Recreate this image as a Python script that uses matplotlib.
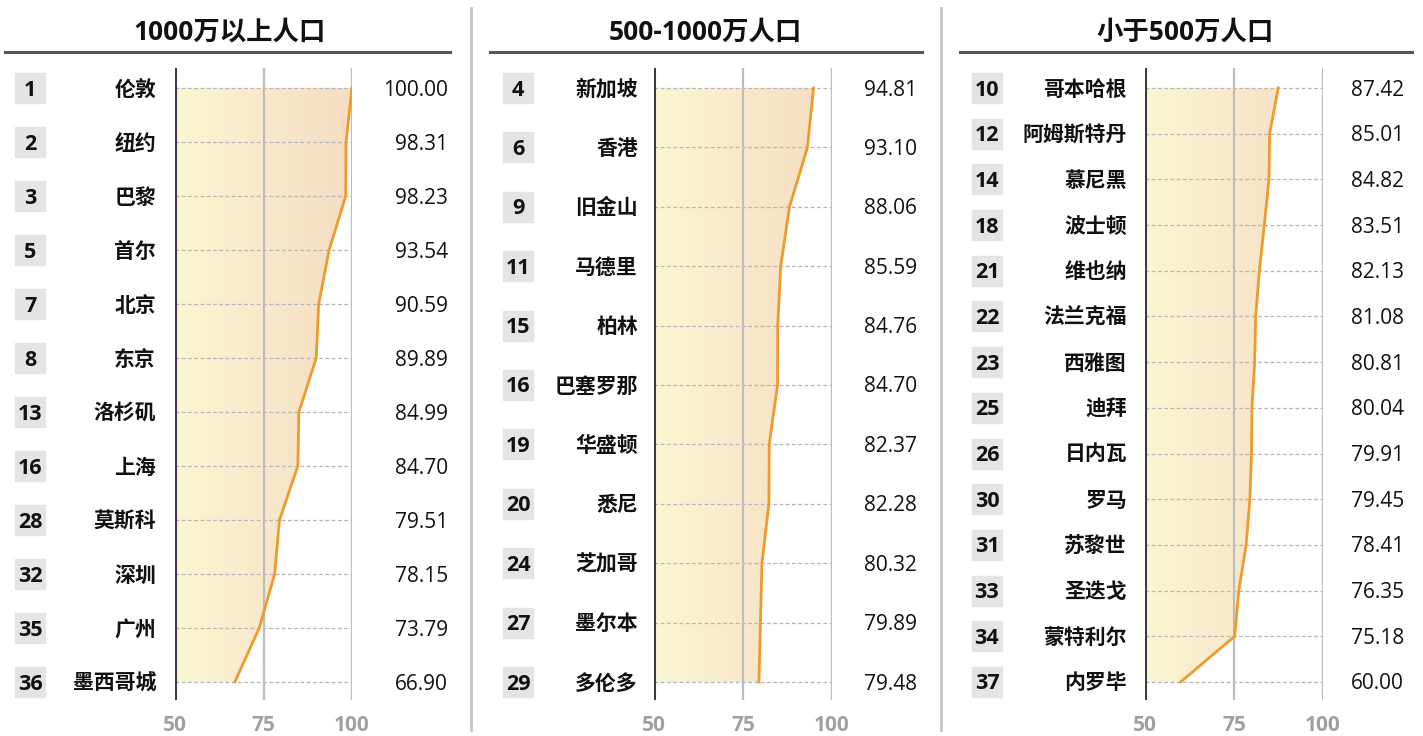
import matplotlib.pyplot as plt
import numpy as np
from matplotlib.colors import LinearSegmentedColormap
from matplotlib.patches import Rectangle
from matplotlib.transforms import blended_transform_factory, offset_copy

plt.rcParams['font.family'] = ['Open Sans', 'Noto Sans CJK SC', 'DejaVu Sans']

titles = ['1000万以上人口', '500-1000万人口', '小于500万人口']

ranks1 = [1, 2, 3, 5, 7, 8, 13, 16, 28, 32, 35, 36]
cities1 = ['伦敦', '纽约', '巴黎', '首尔', '北京', '东京', '洛杉矶', '上海', '莫斯科', '深圳', '广州', '墨西哥城']
values1 = [100.00, 98.31, 98.23, 93.54, 90.59, 89.89, 84.99, 84.70, 79.51, 78.15, 73.79, 66.90]

ranks2 = [4, 6, 9, 11, 15, 16, 19, 20, 24, 27, 29]
cities2 = ['新加坡', '香港', '旧金山', '马德里', '柏林', '巴塞罗那', '华盛顿', '悉尼', '芝加哥', '墨尔本', '多伦多']
values2 = [94.81, 93.10, 88.06, 85.59, 84.76, 84.70, 82.37, 82.28, 80.32, 79.89, 79.48]

ranks3 = [10, 12, 14, 18, 21, 22, 23, 25, 26, 30, 31, 33, 34, 37]
cities3 = ['哥本哈根', '阿姆斯特丹', '慕尼黑', '波士顿', '维也纳', '法兰克福', '西雅图', '迪拜',
           '日内瓦', '罗马', '苏黎世', '圣迭戈', '蒙特利尔', '内罗毕']
values3 = [87.42, 85.01, 84.82, 83.51, 82.13, 81.08, 80.81, 80.04, 79.91, 79.45, 78.41, 76.35, 75.18, 60.00]

groups = [(ranks1, cities1, values1), (ranks2, cities2, values2), (ranks3, cities3, values3)]

# layout in pixels (from the left / top of the 1423x736 canvas)
W, H = 1423, 736
layout = [
    dict(box=(15, 45), name=156, plot=(175, 352), val=448, title=230, line=(5, 450)),
    dict(box=(503, 533), name=638, plot=(654, 832), val=917, title=705, line=(490, 922)),
    dict(box=(972, 1002), name=1127, plot=(1145, 1323), val=1404, title=1185, line=(960, 1412)),
]
row_top, row_bot = 88, 682
ax_top, ax_bot = 68, 700

grad = LinearSegmentedColormap.from_list('g', ['#faf6d2', '#f6dcc2'])
orange = '#ef9a2c'

fig = plt.figure(figsize=(W / 100, H / 100), dpi=100)

for i, ((ranks, cities, values), L) in enumerate(zip(groups, layout)):
    n = len(values)
    sp = (row_bot - row_top) / (n - 1)
    x0, x1 = L['plot']
    ax = fig.add_axes([x0 / W, 1 - ax_bot / H, (x1 - x0) / W, (ax_bot - ax_top) / H])
    y = np.arange(n)

    # gradient fill clipped to area between 50 and the line
    poly = ax.fill_betweenx(y, 50, values, color='none', lw=0)
    img = ax.imshow(np.linspace(0, 1, 256).reshape(1, -1), cmap=grad, aspect='auto',
                    extent=[50, 100, n - 1, 0], zorder=1)
    img.set_clip_path(poly.get_paths()[0], transform=ax.transData)
    ax.set_xlim(50, 100)
    ax.set_ylim((n - 1) + (ax_bot - row_bot) / sp, -(row_top - ax_top) / sp)

    for yy in y:
        ax.plot([50, 100], [yy, yy], color='#b5b5b5', lw=0.9, ls=(0, (3, 2)), zorder=2)
    ax.axvline(75, color='#bdbdbd', lw=1.6, zorder=2)
    ax.axvline(100, color='#bdbdbd', lw=1.6, zorder=2)
    ax.axvline(50, color='#3c3c48', lw=2.2, zorder=4)
    ax.plot(values, y, color=orange, lw=2, zorder=5)

    for s in ax.spines.values():
        s.set_visible(False)
    ax.set_yticks([])
    ax.set_xticks([50, 75, 100])
    ax.tick_params(axis='x', length=0, pad=11, labelsize=15, labelcolor='#a0a0a0')
    for lab in ax.get_xticklabels():
        lab.set_fontweight('bold')

    tr = blended_transform_factory(fig.transFigure, ax.transData)
    trt = offset_copy(tr, fig=fig, y=-2, units='dots')
    bh = 30 / sp
    bx0, bx1 = L['box']
    for yy, r, c, v in zip(y, ranks, cities, values):
        fig.patches.append(Rectangle((bx0 / W, yy - bh / 2), (bx1 - bx0) / W, bh,
                                     transform=tr, color='#e4e4e4', zorder=0))
        fig.text((bx0 + bx1) / 2 / W, yy, str(r), transform=trt, ha='center', va='center',
                 fontsize=15.5, fontweight='bold', color='#111111')
        fig.text(L['name'] / W, yy, c, transform=trt, ha='right', va='center',
                 fontsize=15, fontweight='bold', color='#111111')
        fig.text(L['val'] / W, yy, f'{v:.2f}', transform=trt, ha='right', va='center',
                 fontsize=15, color='#111111')

    fig.text(L['title'] / W, 1 - 32 / H, titles[i],
             ha='center', va='center', fontsize=19, fontweight='bold', color='#111111')
    fig.add_artist(plt.Line2D([L['line'][0] / W, L['line'][1] / W], [1 - 52 / H] * 2,
                              color='#55555f', lw=2.2))

for xs in [471, 941]:
    fig.add_artist(plt.Line2D([xs / W] * 2, [1 - 8 / H, 1 - 730 / H], color='#c4c4c4', lw=2))

fig.savefig('out.png', dpi=100)
